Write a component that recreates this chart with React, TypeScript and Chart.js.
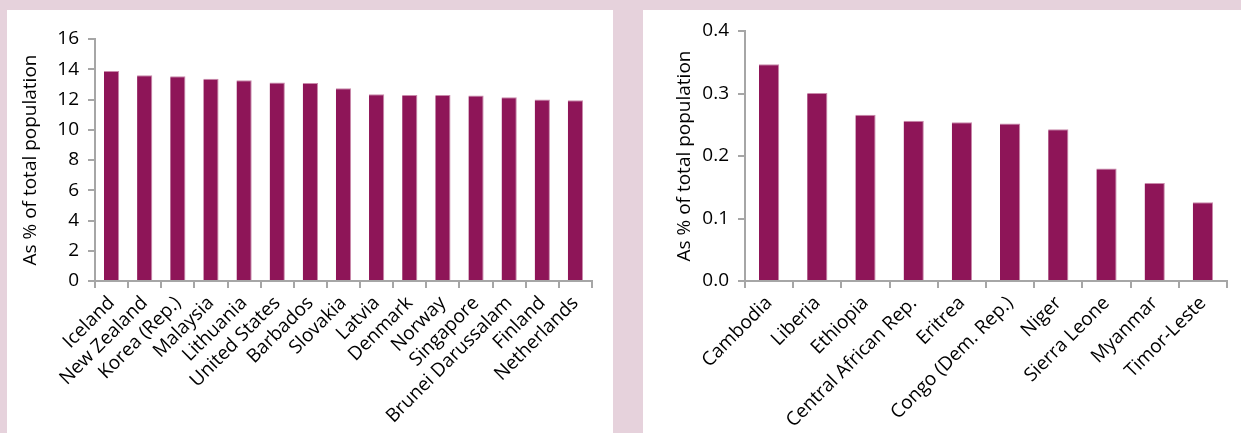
import React, { useEffect, useRef } from "react";
import { Chart, registerables } from "chart.js";

Chart.register(...registerables);

const leftCategories = [
  "Iceland", "New Zealand", "Korea (Rep.)", "Malaysia", "Lithuania", "United States",
  "Barbados", "Slovakia", "Latvia", "Denmark", "Norway", "Singapore",
  "Brunei Darussalam", "Finland", "Netherlands",
];
const leftValues = [13.88, 13.6, 13.53, 13.38, 13.27, 13.13, 13.09, 12.75, 12.35, 12.3, 12.3, 12.27, 12.15, 12.0, 11.95];
const leftTicks = [0, 2, 4, 6, 8, 10, 12, 14, 16];

const rightCategories = [
  "Cambodia", "Liberia", "Ethiopia", "Central African Rep.", "Eritrea",
  "Congo (Dem. Rep.)", "Niger", "Sierra Leone", "Myanmar", "Timor-Leste",
];
const rightValues = [0.347, 0.301, 0.266, 0.2565, 0.254, 0.252, 0.243, 0.18, 0.157, 0.126];
const rightTicks = [0, 0.1, 0.2, 0.3, 0.4];

const axisTitle = "As % of total population";

const BAR = "#8e1558";
const BAR_EDGE = "#c98aab";
const AXIS = "#a6a6a6";
const BG = "#e6d2dc";
const FONT = "'Open Sans', Lato, sans-serif";

type PanelProps = {
  categories: string[];
  values: number[];
  ticks: number[];
  decimals: number;
  width: number;
  height: number;
  yWidth: number;
  titlePad: number;
  padTop: number;
  padRight: number;
  xHeight: number;
  barPct: number;
};

function BarPanel(p: PanelProps) {
  const ref = useRef<HTMLCanvasElement | null>(null);
  useEffect(() => {
    if (!ref.current) return;
    const min = p.ticks[0];
    const max = p.ticks[p.ticks.length - 1];
    const step = p.ticks[1] - p.ticks[0];
    const chart = new Chart(ref.current, {
      type: "bar",
      data: {
        labels: p.categories,
        datasets: [
          {
            data: p.values,
            backgroundColor: BAR,
            borderColor: BAR_EDGE,
            borderWidth: { top: 1, left: 0, right: 1, bottom: 0 },
            barPercentage: p.barPct,
            categoryPercentage: 1,
          },
        ],
      },
      options: {
        responsive: false,
        animation: false,
        layout: { padding: { top: p.padTop, right: p.padRight, left: 0, bottom: 0 } },
        plugins: { legend: { display: false }, tooltip: { enabled: false } },
        scales: {
          x: {
            grid: {
              display: true,
              drawOnChartArea: false,
              drawTicks: true,
              tickLength: 7,
              color: AXIS,
              lineWidth: 2,
              offset: true,
            },
            border: { display: true, color: AXIS, width: 2 },
            ticks: {
              autoSkip: false,
              maxRotation: 45,
              minRotation: 45,
              color: "#000",
              padding: 4,
              font: { family: FONT, size: 19 },
            },
            afterFit: (s: any) => {
              s.height = p.xHeight;
            },
          },
          y: {
            min,
            max,
            grid: {
              display: true,
              drawOnChartArea: false,
              drawTicks: true,
              tickLength: 7,
              color: AXIS,
              lineWidth: 2,
            },
            border: { display: true, color: AXIS, width: 2 },
            ticks: {
              stepSize: step,
              color: "#000",
              padding: 9,
              font: { family: FONT, size: 19 },
              callback: (v: any) => Number(v).toFixed(p.decimals),
            },
            title: {
              display: true,
              text: axisTitle,
              color: "#000",
              font: { family: FONT, size: 19 },
              padding: { top: p.titlePad, bottom: 0 },
            },
            afterFit: (s: any) => {
              s.width = p.yWidth;
            },
          },
        },
      },
    });
    return () => chart.destroy();
  }, []);
  return <canvas ref={ref} width={p.width} height={p.height} style={{ display: "block" }} />;
}

export default function App() {
  return (
    <div
      style={{
        position: "fixed",
        left: 0,
        top: 0,
        width: 1241,
        height: 433,
        background: BG,
        overflow: "hidden",
      }}
    >
      <div style={{ position: "absolute", left: 7, top: 10, width: 606, height: 423, background: "#fff" }}>
        <BarPanel
          categories={leftCategories}
          values={leftValues}
          ticks={leftTicks}
          decimals={0}
          width={606}
          height={423}
          yWidth={88}
          titlePad={12}
          padTop={29}
          padRight={21}
          xHeight={152}
          barPct={0.46}
        />
      </div>
      <div style={{ position: "absolute", left: 643, top: 10, width: 598, height: 423, background: "#fff" }}>
        <BarPanel
          categories={rightCategories}
          values={rightValues}
          ticks={rightTicks}
          decimals={1}
          width={598}
          height={423}
          yWidth={102}
          titlePad={30}
          padTop={21}
          padRight={14}
          xHeight={152}
          barPct={0.42}
        />
      </div>
    </div>
  );
}
